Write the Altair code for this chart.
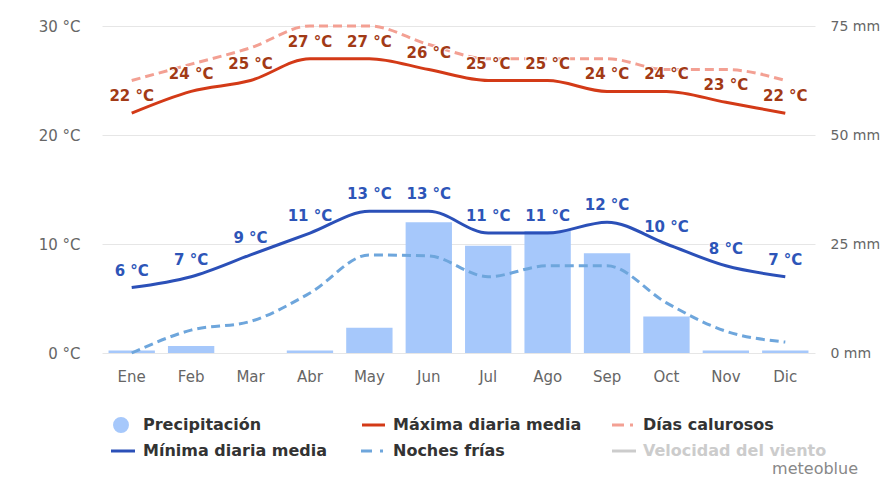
import altair as alt
import pandas as pd

FONT = "DejaVu Sans"

months = ["Ene", "Feb", "Mar", "Abr", "May", "Jun", "Jul", "Ago", "Sep", "Oct", "Nov", "Dic"]
precip_mm = [0.6, 1.6, 0.0, 0.6, 5.8, 30.0, 24.6, 28.0, 22.9, 8.4, 0.6, 0.6]
max_temp = [22, 24, 25, 27, 27, 26, 25, 25, 24, 24, 23, 22]
hot_days = [25, 26.5, 28, 30, 30, 28.3, 27, 27, 27, 26, 26, 25]
min_temp = [6, 7, 9, 11, 13, 13, 11, 11, 12, 10, 8, 7]
cold_nights = [0, 2.1, 2.9, 5.5, 9.0, 8.9, 7.0, 8.0, 8.0, 4.6, 2.0, 1.0]

df = pd.DataFrame({
    "month": months,
    "precip": precip_mm,
    "tmax": max_temp,
    "hot": hot_days,
    "tmin": min_temp,
    "cold": cold_nights,
})

W, H = 713, 327

x_axis = alt.Axis(title=None, labelAngle=0, ticks=False, domain=False, labelPadding=16,
                  labelFontSize=15, labelColor="#666666", labelFont=FONT)
x_enc = alt.X("month:N", sort=months, axis=x_axis,
              scale=alt.Scale(paddingInner=0.22, paddingOuter=0.11))

temp_axis = alt.Axis(title=None, orient="left", values=[0, 10, 20, 30],
                     labelExpr="datum.value + ' °C'", grid=True, gridColor="#e6e6e6",
                     domain=False, ticks=False, labelPadding=22, labelFontSize=15,
                     labelColor="#666666", labelFont=FONT)
temp_scale = alt.Scale(domain=[0, 30], nice=False, zero=True)

def ty(field):
    return alt.Y(f"{field}:Q", scale=temp_scale, axis=temp_axis)

bars = alt.Chart(df).mark_bar(color="#a6c8fb").encode(
    x=x_enc,
    y=alt.Y("precip:Q", scale=alt.Scale(domain=[0, 75], nice=False),
            axis=alt.Axis(title=None, orient="right", values=[0, 25, 50, 75],
                          labelExpr="datum.value + ' mm'", grid=False, domain=False,
                          ticks=False, labelPadding=15, labelFontSize=14,
                          labelColor="#666666", labelFont=FONT)),
)

base = alt.Chart(df)
hot_line = base.mark_line(color="#f3a093", strokeWidth=3, strokeDash=[9, 5],
                          interpolate="monotone").encode(x=x_enc, y=ty("hot"))
cold_line = base.mark_line(color="#6ea6dc", strokeWidth=3, strokeDash=[9, 5],
                           interpolate="monotone").encode(x=x_enc, y=ty("cold"))
max_line = base.mark_line(color="#d33a17", strokeWidth=3,
                          interpolate="monotone").encode(x=x_enc, y=ty("tmax"))
min_line = base.mark_line(color="#2b50b8", strokeWidth=3,
                          interpolate="monotone").encode(x=x_enc, y=ty("tmin"))

def labels(field, color):
    b = base.transform_calculate(lbl=f"datum.{field} + ' °C'")
    halo = b.mark_text(dy=-17, font=FONT, fontSize=15, fontWeight="bold",
                       stroke="white", strokeWidth=2, strokeJoin="round",
                       color="white").encode(x=x_enc, y=ty(field), text="lbl:N")
    txt = b.mark_text(dy=-17, font=FONT, fontSize=15, fontWeight="bold",
                      color=color).encode(x=x_enc, y=ty(field), text="lbl:N")
    return [halo, txt]

temp_layer = alt.layer(hot_line, cold_line, max_line, min_line,
                       *labels("tmax", "#a23a16"), *labels("tmin", "#2d55b8"))

one = pd.DataFrame({"t": [""]})

def legend_text(label, x, y, color="#333333", bold=True, align="left"):
    d = pd.DataFrame({"t": [label]})
    return alt.Chart(d).mark_text(align=align, baseline="middle", font=FONT, fontSize=16,
                                  fontWeight="bold" if bold else "normal",
                                  color=color).encode(x=alt.value(x), y=alt.value(y), text="t:N")

def legend_rule(x1, x2, y, color, dash=None):
    kw = dict(color=color, strokeWidth=3)
    if dash:
        kw["strokeDash"] = dash
    return alt.Chart(one).mark_rule(**kw).encode(x=alt.value(x1), x2=alt.value(x2), y=alt.value(y))

r1, r2 = 399, 425
legend = [
    alt.Chart(one).mark_circle(size=254, color="#a6c8fb", opacity=1).encode(
        x=alt.value(19), y=alt.value(r1)),
    legend_text("Precipitación", 41, r1),
    legend_rule(260, 283, r1, "#d33a17"),
    legend_text("Máxima diaria media", 291, r1),
    legend_rule(510, 531, r1, "#f3a093", [12, 6]),
    legend_text("Días calurosos", 541, r1),
    legend_rule(9, 33, r2, "#2b50b8"),
    legend_text("Mínima diaria media", 41, r2),
    legend_rule(259, 281, r2, "#6ea6dc", [11, 8]),
    legend_text("Noches frías", 291, r2),
    legend_rule(510, 534, r2, "#cccccc"),
    legend_text("Velocidad del viento", 541, r2, color="#cccccc"),
    legend_text("meteoblue", 756, 443, color="#888888", bold=False, align="right"),
]

chart = alt.layer(bars, temp_layer, *legend).resolve_scale(y="independent").properties(
    width=W, height=H,
    autosize=alt.AutoSizeParams(type="none"),
    padding={"left": 94, "top": 18, "right": 65, "bottom": 124},
).configure_view(stroke=None)

chart.save("out.html", embed_options={"renderer": "svg", "actions": False})
